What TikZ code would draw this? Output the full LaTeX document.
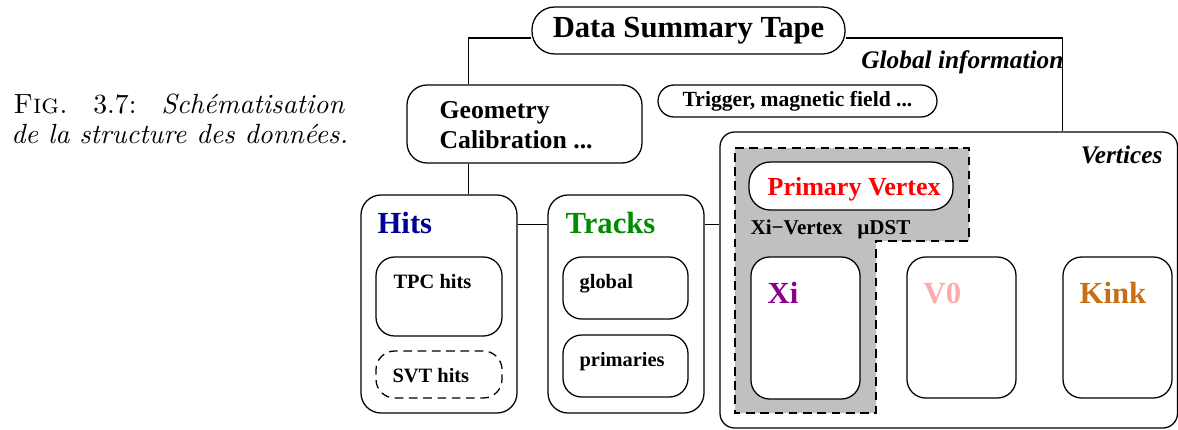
\documentclass[tikz,border=0pt]{standalone}
\usepackage{fontspec}
\newfontfamily\tnr{Liberation Serif}
\usetikzlibrary{fit,calc}
\definecolor{hitsblue}{RGB}{0,0,150}
\definecolor{trackgreen}{RGB}{0,140,0}
\definecolor{pvred}{RGB}{255,0,0}
\definecolor{xipurple}{RGB}{140,0,140}
\definecolor{vzeropink}{RGB}{255,170,170}
\definecolor{kinkorange}{RGB}{200,110,20}
\definecolor{regiongray}{RGB}{192,192,192}
\begin{document}
\begin{tikzpicture}[x=0.75pt,y=-0.75pt,line width=0.95pt,
  box/.style={draw,inner sep=0pt,rounded corners=#1},
  box/.default=14pt,
  dashbox/.style={box=#1,dash pattern=on 6.5pt off 4.2pt},
  dashbox/.default=13pt,
  lbl/.style={inner sep=0pt,anchor=base west},
  bigbf/.style={lbl,font=\tnr\bfseries\fontsize{23}{27}\selectfont},
  midbf/.style={lbl,font=\tnr\bfseries\fontsize{19.3}{23}\selectfont},
  smallbf/.style={lbl,font=\tnr\bfseries\fontsize{15.3}{18}\selectfont},
  bfit/.style={lbl,font=\tnr\bfseries\itshape\fontsize{19}{23}\selectfont},
  capt/.style={lbl,scale=2.08,font=\fontsize{10}{12}\selectfont}]
\useasboundingbox (0,0) rectangle (1178,429);

% caption
\node[capt] (fig) at (12,113) {\textsc{Fig.}};
\node[capt] (num) at (92,113) {3.7:};
\node[capt] (cap1) at (160,113) {\itshape Schématisation};
\node[capt] (cap2) at (10,143) {\itshape de la structure des données.};

% top level
\node[box=17pt,fit={(532,7)(845,54)}] (dst) {};
\node[bigbf,anchor=center] (dsttxt) at (688.5,31) {Data Summary Tape};
\node[bfit,anchor=base east] (glob) at (1064,68) {Global information};

\node[box=15pt,fit={(407,85)(642,163)}] (geo) {};
\node[midbf] (geot1) at (439,118) {Geometry};
\node[midbf] (geot2) at (439,148) {Calibration ...};

\node[box=12pt,fit={(658,85)(937,117)}] (trig) {};
\node[lbl,font=\tnr\bfseries\fontsize{16.2}{19}\selectfont,anchor=center] (trigt) at (797.5,101) {Trigger, magnetic field ...};

% hits
\node[box=15pt,fit={(361,195)(517,413)}] (hits) {};
\node[bigbf,text=hitsblue] (hitst) at (377,233) {Hits};
\node[box=14pt,fit={(376,257)(502,336)}] (tpc) {};
\node[smallbf] (tpct) at (393,288) {TPC hits};
\node[dashbox=14pt,fit={(376,351)(502,398)}] (svt) {};
\node[smallbf] (svtt) at (392,382) {SVT hits};

% tracks
\node[box=15pt,fit={(548,195)(704,413)}] (tracks) {};
\node[bigbf,text=trackgreen] (trackst) at (565,233) {Tracks};
\node[box=14pt,fit={(563,257)(688,319)}] (glb) {};
\node[smallbf] (glbt) at (579,288) {global};
\node[box=14pt,fit={(563,335)(688,397)}] (prim) {};
\node[smallbf] (primt) at (579,366) {primaries};

% vertices
\node[box=11pt,fit={(720,132)(1177.5,428)}] (vert) {};
\node[bfit,anchor=base east] (vertt) at (1163,163) {Vertices};
\filldraw[fill=regiongray,dash pattern=on 6.5pt off 4.2pt]
  (735,148) -- (969,148) -- (969,241) -- (876,241) -- (876,413) -- (735,413) -- cycle;
\node[box=16pt,fill=white,fit={(749,162)(953,210)}] (pv) {};
\node[lbl,font=\tnr\bfseries\fontsize{19.5}{23}\selectfont,text=pvred] (pvt) at (767,195) {Primary Vertex};
\node[lbl,font=\tnr\bfseries\fontsize{15.8}{19}\selectfont] (xivt) at (750,234) {Xi−Vertex\hspace{0.7em}µDST};
\node[box=14pt,fill=white,fit={(751,257)(860,399)}] (xi) {};
\node[bigbf,text=xipurple] (xit) at (767,303) {Xi};
\node[box=14pt,fit={(907,257)(1016,398)}] (vzero) {};
\node[bigbf,text=vzeropink] (vzerot) at (923,303) {V0};
\node[box=14pt,fit={(1063,257)(1172,398)}] (kink) {};
\node[bigbf,text=kinkorange] (kinkt) at (1079,303) {Kink};

% connectors
\draw ([yshift=-5.6pt]dst.west) -| ([xshift=46.5pt]geo.north west);
\draw ([yshift=-5.6pt]dst.east) -| ([xshift=257.25pt]vert.north west);
\draw ([xshift=46.5pt]geo.south west) -- ([xshift=46.5pt]geo.south west |- hits.north);
\draw ([yshift=-22.5pt]hits.north east) -- ([yshift=-22.5pt]tracks.north west);
\draw ([yshift=-22.5pt]tracks.north east) -- ([yshift=-22.5pt]tracks.north east -| vert.west);
\end{tikzpicture}
\end{document}
